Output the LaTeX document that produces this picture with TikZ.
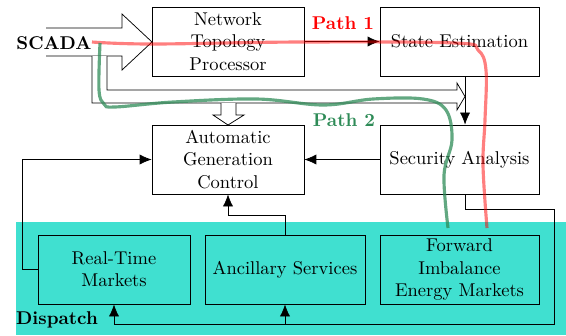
\documentclass[tikz,border=0pt]{standalone}
\usepackage{tikz}
\usetikzlibrary{arrows.meta,calc}
\definecolor{dispatchcyan}{HTML}{40E0D0}
\definecolor{pathgreen}{HTML}{2E8B57}

\begin{document}
\begin{tikzpicture}[x=0.019cm, y=-0.019cm,
		>={Latex[length=6.5pt,width=5.5pt]},
		block/.style={draw, align=center, minimum height=37.3pt, inner sep=0pt},
		market/.style={block, fill=dispatchcyan},
		hollow/.style={draw, fill=white},
		pathone/.style={red, opacity=0.5, line width=1.7pt},
		pathtwo/.style={pathgreen, opacity=0.75, line width=1.7pt},
		pathlabel/.style={font=\bfseries}]
			%%%%% START %%%%%
			
			\useasboundingbox (0,0) rectangle (566,335);
			\fill[dispatchcyan] (16,222) rectangle (566,335);
			
			% hollow arrows
			\draw[hollow] (46,28) -- (122,28) -- (122,14) -- (152,42) -- (122,70) -- (122,56) -- (46,56);
			\draw[hollow] (92,56) -- (92,103) -- (457,103) -- (457,110) -- (465,96.5) -- (457,83) -- (457,90) -- (107,90) -- (107,56);
			\draw[hollow] (221,103) -- (221,115) -- (213,115) -- (228,125) -- (244,115) -- (236,115) -- (236,103);
			
			% control room
			\node[block, minimum width=82.1pt] (ntp) at (228,41.5) {Network\\Topology\\Processor};
			\node[block, minimum width=85.9pt] (se) at (459.5,41.5) {State Estimation};
			\node[block, minimum width=82.1pt] (agc) at (228,159.5) {Automatic\\Generation\\Control};
			\node[block, minimum width=85.9pt] (sa) at (459.5,159.5) {Security Analysis};
			
			% markets
			\node[market, minimum width=82.1pt] (rtm) at (114,269.5) {Real-Time\\Markets};
			\node[market, minimum width=86.4pt] (as) at (285,269.5) {Ancillary Services};
			\node[market, minimum width=85.9pt] (fiem) at (459.5,269.5) {Forward\\Imbalance\\Energy Markets};
			
			\node[font=\bfseries] (scada) at (54,43) {SCADA};
			\node[font=\bfseries] (dispatch) at (57,320) {Dispatch};
			
			% connectors
			\draw[->] (ntp.east) -- (se.west);
			\draw[->] ([xshift=3pt]se.south) -- ([xshift=3pt]sa.north);
			\draw[->] (sa.west) -- (agc.east);
			\draw[->] (rtm.west) -- ++(-15,0) |- (agc.west);
			\draw[->] (as.north) -- ++(0,-19) -| (agc.south);
			\coordinate (loop) at (554,324);
			\draw[->] ([xshift=3pt]sa.south) -- ++(0,15) -| (loop) -| (rtm.south);
			\draw[->] (as.south |- loop) -- (as.south);
			
			% paths
			\draw[pathone] plot[smooth, tension=0.6] coordinates {(92,42) (152,44) (300,42) (455,43) (478,50) (486,70) (485,120) (483,165) (487,228)};
			\draw[pathtwo] plot[smooth, tension=0.6] coordinates {(100,43) (99,90) (104,104) (115,107) (173,102) (257,99) (323,105) (373,99) (423,99) (446,110) (452,140) (444,175) (448,228)};
			\node[pathlabel, red] (pone) at (343,23) {Path 1};
			\node[pathlabel, pathgreen] (ptwo) at (344,120) {Path 2};
			
			%%%%% END %%%%%
		\end{tikzpicture}
\end{document}
